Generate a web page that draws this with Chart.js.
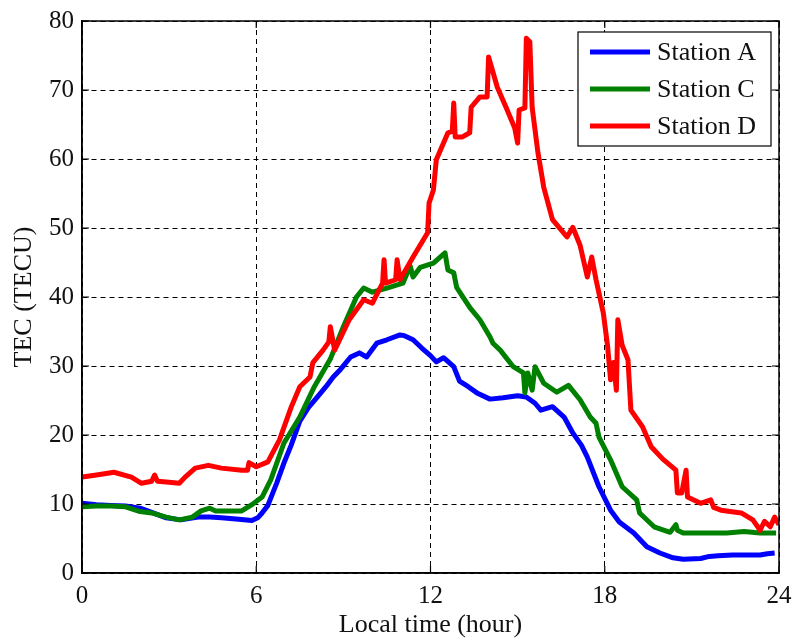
<!DOCTYPE html>
<html>
<head>
<meta charset="utf-8">
<script src="https://cdn.jsdelivr.net/npm/chart.js@4.4.1/dist/chart.umd.min.js"></script>
<style>
  html, body { margin: 0; padding: 0; background: #fff; }
  #wrap { width: 792px; height: 641px; position: relative; }
</style>
</head>
<body>
<div id="wrap"><canvas id="tecChart"></canvas></div>
<script>
// Diurnal TEC at three stations (local time in hours, TEC in TECU)
const hoursA = [0, 0.5, 1.0, 1.5, 2.0, 2.4, 2.9, 3.4, 4.0, 4.4, 4.8, 5.4, 5.85, 6.05, 6.2, 6.4, 6.7, 6.95, 7.2, 7.5,
    7.8, 8.1, 8.4, 8.65, 8.9, 9.25, 9.55, 9.8, 10.15, 10.5, 10.95, 11.1, 11.4, 11.7, 12.0, 12.2, 12.45, 12.8, 13.0, 13.3,
    13.6, 14.05, 14.5, 15.0, 15.3, 15.6, 15.8, 16.2, 16.6, 16.9, 17.2, 17.4, 17.8, 18.2, 18.5, 19.0, 19.45, 19.9, 20.35, 20.7,
    21.3, 21.6, 21.9, 22.4, 22.9, 23.35, 23.6, 23.85];
const tecA = [10.1, 9.9, 9.8, 9.7, 9.4, 8.8, 8.0, 7.7, 8.1, 8.1, 8.0, 7.8, 7.6, 8.0, 8.7, 9.8, 13.0, 15.9, 18.5, 22.0,
    24.0, 25.5, 27.0, 28.4, 29.5, 31.3, 31.9, 31.3, 33.3, 33.8, 34.5, 34.4, 33.8, 32.6, 31.5, 30.6, 31.2, 29.9, 27.8, 27.0,
    26.1, 25.2, 25.4, 25.7, 25.5, 24.6, 23.6, 24.1, 22.6, 20.3, 18.5, 16.8, 12.5, 9.1, 7.4, 5.8, 3.8, 2.9, 2.2, 2.0,
    2.1, 2.4, 2.5, 2.6, 2.6, 2.6, 2.8, 2.9];

const hoursC = [0, 0.5, 1.0, 1.5, 2.0, 2.4, 2.9, 3.35, 3.8, 4.1, 4.4, 4.6, 4.8, 5.5, 5.85, 6.2, 6.5, 6.95, 7.5, 8.0,
    8.55, 9.0, 9.45, 9.7, 10.0, 10.5, 11.05, 11.3, 11.4, 11.65, 12.1, 12.5, 12.6, 12.8, 12.9, 13.35, 13.7, 14.05, 14.15, 14.4,
    14.85, 15.2, 15.25, 15.35, 15.5, 15.6, 15.9, 16.35, 16.75, 17.15, 17.5, 17.7, 17.8, 18.2, 18.6, 19.1, 19.2, 19.7, 20.25, 20.45,
    20.5, 20.7, 21.5, 22.2, 22.8, 23.35, 23.9];
const tecC = [9.6, 9.7, 9.7, 9.6, 8.9, 8.7, 8.1, 7.7, 8.1, 9.0, 9.4, 9.0, 9.0, 9.0, 9.9, 11.0, 13.5, 18.8, 22.6, 27.0,
    31.0, 35.7, 40.0, 41.3, 40.7, 41.3, 42.0, 44.5, 42.9, 44.3, 44.9, 46.4, 43.9, 43.5, 41.4, 38.5, 36.7, 34.2, 33.3, 32.3,
    29.9, 29.0, 26.1, 29.0, 26.5, 29.9, 27.5, 26.2, 27.2, 25.1, 22.6, 21.7, 19.7, 16.4, 12.5, 10.6, 8.7, 6.7, 5.9, 7.0,
    6.2, 5.8, 5.8, 5.8, 6.0, 5.8, 5.8];

const hoursD = [0, 0.5, 1.1, 1.7, 2.05, 2.4, 2.5, 2.6, 2.9, 3.35,
    3.55, 3.9, 4.35, 4.8, 5.5, 5.7, 5.75, 6.0, 6.4, 6.8,
    7.2, 7.5, 7.85, 7.95, 8.3, 8.5, 8.55, 8.7, 9.2, 9.7,
    10.0, 10.35, 10.4, 10.45, 10.8, 10.85, 10.95, 11.4, 11.9, 11.95,
    12.1, 12.2, 12.6, 12.75, 12.8, 12.85, 13.1, 13.35, 13.4, 13.7,
    13.95, 14.0, 14.3, 14.6, 14.9, 15.0, 15.05, 15.25, 15.3, 15.42,
    15.5, 15.7, 15.9, 16.2, 16.7, 16.9, 17.15, 17.4, 17.55, 17.7,
    17.95, 18.1, 18.2, 18.3, 18.4, 18.45, 18.6, 18.8, 18.9, 19.3,
    19.6, 20.0, 20.45, 20.5, 20.65, 20.8, 20.85, 21.3, 21.65, 21.75,
    22.0, 22.7, 23.1, 23.35, 23.5, 23.7, 23.85, 24.0];
const tecD = [13.9, 14.2, 14.6, 13.9, 13.0, 13.3, 14.2, 13.3, 13.2, 13.0,
    13.9, 15.2, 15.6, 15.2, 14.9, 14.9, 16.0, 15.4, 16.1, 19.3,
    24.0, 27.0, 28.4, 30.5, 32.3, 33.5, 35.7, 32.3, 36.7, 39.6,
    39.1, 42.0, 45.4, 42.0, 42.5, 45.4, 42.5, 45.8, 49.3, 53.6,
    55.5, 59.9, 63.8, 64.0, 68.1, 63.2, 63.2, 63.8, 67.5, 69.0,
    69.0, 74.8, 70.4, 67.5, 64.5, 62.3, 67.1, 67.4, 77.5, 77.0,
    67.5, 60.9, 55.9, 51.2, 48.7, 50.1, 47.5, 42.9, 45.8, 42.5,
    37.7, 32.8, 28.0, 30.5, 26.5, 36.7, 33.0, 30.9, 23.6, 21.2,
    18.3, 16.5, 14.9, 11.6, 11.6, 14.9, 11.0, 10.1, 10.6, 9.5,
    9.1, 8.7, 7.7, 6.2, 7.5, 6.7, 8.1, 7.0];

const stationNames = ['Station A', 'Station C', 'Station D'];
const stationColors = ['#0000ff', '#008000', '#ff0000'];
const xTicks = [0, 6, 12, 18, 24];
const yTicks = [0, 10, 20, 30, 40, 50, 60, 70, 80];

const toPoints = (xs, ys) => xs.map((x, i) => ({ x: x, y: ys[i] }));

const serif = '"Liberation Serif", "Times New Roman", serif';

// Box around the axes plus inward tick marks on all four sides, and the legend
const framePlugin = {
    id: 'frame',
    afterDraw(chart) {
        const ctx = chart.ctx;
        const a = chart.chartArea;
        const xs = chart.scales.x, ys = chart.scales.y;
        ctx.save();
        ctx.strokeStyle = '#000';
        ctx.lineWidth = 1.5;
        ctx.setLineDash([]);
        ctx.strokeRect(a.left, a.top, a.right - a.left, a.bottom - a.top);
        ctx.lineWidth = 1.2;
        const tl = 7;
        ctx.beginPath();
        xTicks.forEach(v => {
            const px = xs.getPixelForValue(v);
            ctx.moveTo(px, a.bottom); ctx.lineTo(px, a.bottom - tl);
            ctx.moveTo(px, a.top); ctx.lineTo(px, a.top + tl);
        });
        yTicks.forEach(v => {
            const py = ys.getPixelForValue(v);
            ctx.moveTo(a.left, py); ctx.lineTo(a.left + tl, py);
            ctx.moveTo(a.right, py); ctx.lineTo(a.right - tl, py);
        });
        ctx.stroke();

        // legend
        const bw = 193, bh = 114;
        const bx = a.right - 8 - bw, by = a.top + 11;
        ctx.fillStyle = '#fff';
        ctx.fillRect(bx, by, bw, bh);
        ctx.lineWidth = 1.2;
        ctx.strokeStyle = '#000';
        ctx.strokeRect(bx, by, bw, bh);
        ctx.font = '26px ' + serif;
        ctx.textBaseline = 'middle';
        ctx.textAlign = 'left';
        stationNames.forEach((name, i) => {
            const ry = by + 20 + i * 37;
            ctx.strokeStyle = stationColors[i];
            ctx.lineWidth = 5;
            ctx.beginPath();
            ctx.moveTo(bx + 12, ry); ctx.lineTo(bx + 72, ry);
            ctx.stroke();
            ctx.fillStyle = '#111';
            ctx.fillText(name, bx + 79, ry + 1);
        });
        ctx.restore();
    }
};

const series = [toPoints(hoursA, tecA), toPoints(hoursC, tecC), toPoints(hoursD, tecD)];

new Chart(document.getElementById('tecChart').getContext('2d'), {
    type: 'line',
    data: {
        datasets: series.map((pts, i) => ({
            label: stationNames[i],
            data: pts,
            borderColor: stationColors[i],
            backgroundColor: stationColors[i],
            borderWidth: 5,
            borderJoinStyle: 'round',
            pointRadius: 0,
            tension: 0,
            fill: false,
            order: 2 - i
        }))
    },
    options: {
        responsive: true,
        maintainAspectRatio: false,
        animation: false,
        layout: { padding: { left: 0, top: 21, right: 13, bottom: 0 } },
        plugins: {
            legend: { display: false },
            tooltip: { enabled: false }
        },
        scales: {
            x: {
                type: 'linear',
                min: 0,
                max: 24,
                afterFit: (s) => { s.height = 68; s.paddingLeft = 0; s.paddingRight = 0; },
                afterBuildTicks: (s) => { s.ticks = xTicks.map(v => ({ value: v })); },
                ticks: { font: { family: serif, size: 25 }, color: '#111', padding: 8, maxRotation: 0 },
                grid: { color: '#000', lineWidth: 1, drawTicks: false },
                border: { display: true, color: '#000', width: 1.5, dash: [5, 4] },
                title: {
                    display: true,
                    text: 'Local time (hour)',
                    font: { family: serif, size: 26 },
                    color: '#111',
                    padding: { top: 0, bottom: 0 }
                }
            },
            y: {
                min: 0,
                max: 80,
                afterFit: (s) => { s.width = 82; s.paddingTop = 0; s.paddingBottom = 0; },
                afterBuildTicks: (s) => { s.ticks = yTicks.map(v => ({ value: v })); },
                ticks: { font: { family: serif, size: 25 }, color: '#111', padding: 8 },
                grid: { color: '#000', lineWidth: 1, drawTicks: false },
                border: { display: true, color: '#000', width: 1.5, dash: [5, 4] },
                title: {
                    display: true,
                    text: 'TEC (TECU)',
                    font: { family: serif, size: 26 },
                    color: '#111',
                    padding: { top: 9, bottom: 0 }
                }
            }
        }
    },
    plugins: [framePlugin]
});
</script>
</body>
</html>
